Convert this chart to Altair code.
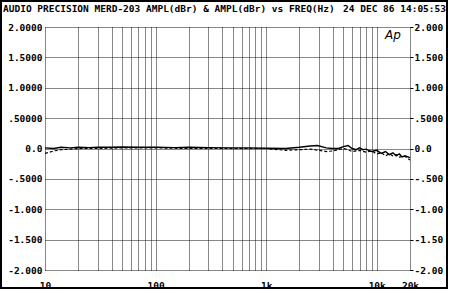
import altair as alt
import pandas as pd

# ---- data ----
freq_solid = [10, 12, 14, 17, 20, 25, 30, 40, 50, 70, 100, 150, 200, 300, 500, 700,
              1000, 1500, 2000, 2500, 2900, 3500, 4000, 4500, 5000, 5500, 6000, 6500,
              7000, 7500, 8000, 9000, 10000, 11000, 12000, 13000, 14000, 15000, 16000,
              17000, 18000, 20000]
solid_db = [0.01, 0.0, 0.02, 0.01, 0.02, 0.015, 0.02, 0.02, 0.025, 0.02, 0.02, 0.015,
            0.02, 0.015, 0.01, 0.01, 0.005, 0.0, 0.02, 0.04, 0.05, 0.01, 0.0, 0.0,
            0.03, 0.05, 0.0, -0.02, 0.01, -0.02, -0.01, -0.05, -0.03, -0.08, -0.05,
            -0.10, -0.07, -0.12, -0.09, -0.14, -0.12, -0.15]

freq_dashed = [10, 11, 12, 14, 17, 20, 30, 50, 100, 200, 500, 1000, 1500, 2000, 2500,
               3000, 3500, 4000, 5000, 5500, 6000, 7000, 8000, 9000, 10000, 11000,
               12000, 13000, 14000, 15000, 16000, 18000, 20000]
dashed_db = [-0.08, -0.06, -0.04, -0.02, -0.01, 0.0, 0.0, 0.01, 0.01, 0.0, 0.0, 0.0,
             -0.03, -0.02, -0.01, -0.03, -0.05, -0.04, 0.0, -0.02, -0.05, -0.03,
             -0.06, -0.04, -0.09, -0.07, -0.12, -0.09, -0.12, -0.10, -0.14, -0.13,
             -0.19]

y_ticks = [2, 1.5, 1, 0.5, 0, -0.5, -1, -1.5, -2]
y_left_labels = ["2.0000", "1.5000", "1.0000", ".50000", "0.0", "-.5000", "-1.000",
                 "-1.500", "-2.000"]
y_right_labels = ["2.000", "1.500", "1.000", ".5000", "0.0", "-.500", "-1.00",
                  "-1.50", "-2.00"]

x_grid = [10, 20, 30, 40, 50, 60, 70, 80, 90, 100, 200, 300, 400, 500, 600, 700, 800,
          900, 1000, 2000, 3000, 4000, 5000, 6000, 7000, 8000, 9000, 10000, 20000]
x_label_vals = [10, 100, 1000, 10000, 20000]
x_label_text = ["10", "100", "1k", "10k", "20k"]

title_left = "AUDIO PRECISION MERD-203 AMPL(dBr) & AMPL(dBr) vs FREQ(Hz)"
title_right = "24 DEC 86 14:05:53"
logo_text = "Ap"
logo_freq = [14000]
logo_db = [1.87]

FONT = "DejaVu Sans Mono"
FS = 9.5


def label_expr(vals, labels):
    parts = [f"abs(datum.value-({v}))<1e-6?'{l}'" for v, l in zip(vals, labels)]
    return ":".join(parts) + ":''"


df_solid = pd.DataFrame({"freq": freq_solid, "db": solid_db})
df_dashed = pd.DataFrame({"freq": freq_dashed, "db": dashed_db})
df_logo = pd.DataFrame({"freq": logo_freq, "db": logo_db, "t": [logo_text]})

xscale = alt.Scale(type="log", domain=[10, 20000], nice=False)
yscale = alt.Scale(domain=[-2, 2], nice=False, zero=False)

x_axis = alt.Axis(
    values=x_grid, labelExpr=label_expr(x_label_vals, x_label_text), title=None,
    grid=True, gridColor="#111", gridDash=[1, 1], gridWidth=1,
    ticks=False, domain=False, labelFont=FONT, labelFontSize=FS,
    labelFontWeight="bold", labelColor="black", labelPadding=10,
    labelFlush=False, labelOverlap=False, labelBound=False,
)
y_left = alt.Axis(
    values=y_ticks, labelExpr=label_expr(y_ticks, y_left_labels), title=None,
    grid=True, gridColor="#111", gridDash=[1, 1], gridWidth=1,
    ticks=False, domain=False, labelFont=FONT, labelFontSize=FS,
    labelFontWeight="bold", labelColor="black", labelPadding=3,
    labelFlush=False, labelOverlap=False, labelBound=False, tickCount=9,
)
y_right = alt.Axis(
    values=y_ticks, labelExpr=label_expr(y_ticks, y_right_labels), title=None,
    orient="right", grid=False, ticks=True, tickSize=3, tickColor="black",
    domain=False, labelFont=FONT, labelFontSize=FS, labelFontWeight="bold",
    labelColor="black", labelPadding=1, labelFlush=False, labelOverlap=False,
    labelBound=False,
)

solid = alt.Chart(df_solid).mark_line(color="black", strokeWidth=1.4).encode(
    x=alt.X("freq:Q", scale=xscale, axis=x_axis),
    y=alt.Y("db:Q", scale=yscale, axis=y_left),
)

dashed = alt.Chart(df_dashed).mark_line(color="black", strokeWidth=1.2,
                                         strokeDash=[3, 2]).encode(
    x=alt.X("freq:Q", scale=xscale, axis=x_axis),
    y=alt.Y("db:Q", scale=yscale, axis=y_left),
)

logo = alt.Chart(df_logo).mark_text(font="DejaVu Sans", fontStyle="italic",
                                    fontSize=12, color="black").encode(
    x=alt.X("freq:Q", scale=xscale, axis=x_axis),
    y=alt.Y("db:Q", scale=yscale, axis=y_left),
    text="t:N",
)

right_axis = alt.Chart(df_solid).mark_line(opacity=0).encode(
    x=alt.X("freq:Q", scale=xscale, axis=x_axis),
    y=alt.Y("db:Q", scale=yscale, axis=y_right),
)

titles = alt.Chart(pd.DataFrame({"a": [title_left], "b": [title_right]}))
t_left = titles.mark_text(font=FONT, fontSize=FS, fontWeight="bold", align="left",
                          baseline="alphabetic", color="black").encode(
    x=alt.value(-42), y=alt.value(-15), text="a:N")
t_right = titles.mark_text(font=FONT, fontSize=FS, fontWeight="bold", align="right",
                           baseline="alphabetic", color="black").encode(
    x=alt.value(401), y=alt.value(-15), text="b:N")

frame = titles.mark_rect(fillOpacity=0, stroke="black", strokeWidth=2).encode(
    x=alt.value(-44), x2=alt.value(402), y=alt.value(-26), y2=alt.value(261))

left_layer = alt.layer(solid, dashed, logo, t_left, t_right, frame)
chart = alt.layer(left_layer, right_axis).resolve_scale(y="independent").properties(
    width=365, height=243,
    autosize=alt.AutoSizeParams(type="none"),
    padding={"left": 45, "top": 27, "right": 40, "bottom": 23},
    background="white",
).configure_view(stroke=None)

chart.save("out.html", embed_options={"renderer": "svg", "actions": False})
